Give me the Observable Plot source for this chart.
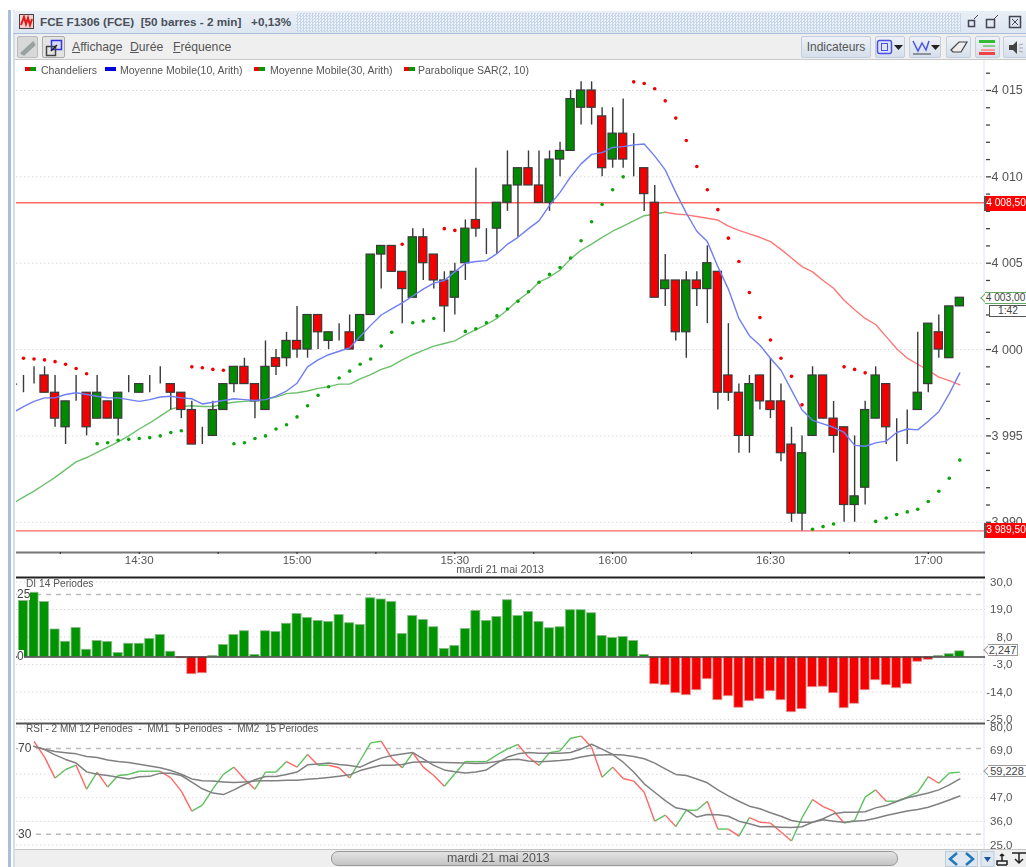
<!DOCTYPE html>
<html lang="fr"><head><meta charset="utf-8">
<script src="https://cdn.jsdelivr.net/npm/d3@7"></script>
<script src="https://cdn.jsdelivr.net/npm/@observablehq/plot@0.6"></script>
<style>
html,body{margin:0;padding:0;background:#fff;width:1026px;height:867px;overflow:hidden;font-family:"Liberation Sans",Arial,sans-serif}
#page{position:absolute;left:0;top:0;width:1026px;height:867px;overflow:hidden;filter:blur(.5px)}
.abs{position:absolute;white-space:pre;line-height:1}
.panel{position:absolute;left:0;width:1026px}
.panel svg{background:transparent!important;overflow:visible;font-family:"Liberation Sans",Arial,sans-serif}
.btn{position:absolute;top:36px;height:22px;background:linear-gradient(#eef2f7,#d5dfeb);border:1px solid #c2cedd;border-radius:2px;box-sizing:border-box}
.box{position:absolute;box-sizing:border-box;text-align:center;white-space:pre}
.leg{position:absolute;top:65px;font-size:10.5px;color:#555;white-space:pre;line-height:10px}
.mk{position:absolute;top:67px;width:11px;height:4px}
.ptr{position:absolute;width:8px;height:8px;background:#fff;transform:rotate(45deg);box-sizing:border-box}
u{text-decoration:underline}
</style></head><body>
<div id="page">
  <div class="abs" style="left:8px;top:10px;width:3px;height:857px;background:#a9bedd"></div>
  <div class="abs" style="left:13px;top:10px;width:2px;height:857px;background:#d3deec"></div>
  <div class="abs" style="left:13px;top:11px;width:1013px;height:23px;background:linear-gradient(#e9eff6,#dde6f1);border-bottom:1px solid #a9bedd;box-sizing:border-box"></div>
  <div class="abs" style="left:296px;top:13px;width:665px;height:19px;background:repeating-conic-gradient(#c6d5e8 0 25%,#eef3f9 0 50%) 0 0/3px 3px"></div>
  <svg class="abs" style="left:19px;top:14px" width="15" height="15"><rect x=".5" y=".5" width="14" height="14" fill="#f4d0d0" stroke="#444"/><path d="M2 11 L5 3 L7 10 L9 4 L11 11 L13 5" fill="none" stroke="#e01818" stroke-width="2"/></svg>
  <div class="abs" style="left:40px;top:16px;font-size:11.7px;font-weight:bold;color:#4a4f58">FCE F1306 (FCE)  [50 barres - 2 min]   +0,13%</div>
  <svg class="abs" style="left:966px;top:13px" width="60" height="18"><g fill="none" stroke="#445"><rect x="2.5" y="7.5" width="6" height="6" stroke-width="1.5"/><path d="M8 6 L12 2"/><rect x="20.5" y="6.5" width="8" height="8" stroke-width="1.5"/><path d="M28 6 L32 2"/><rect x="43.5" y="3.5" width="11" height="11" stroke-width="1.5" fill="#dfe8f2"/><path d="M46 6 L52 12 M52 6 L46 12"/></g></svg>
  <div class="abs" style="left:15px;top:34px;width:1011px;height:26px;background:#efefef;border-bottom:1px solid #c9c9c9;box-sizing:border-box"></div>
  <div class="btn" style="left:17px;width:21px;background:#d8d8d8;border-color:#bbb"></div>
  <svg class="abs" style="left:18px;top:38px" width="20" height="20"><path d="M3 16 L16 4 M5 17 L17 6" stroke="#9aa0a0" stroke-width="2.5" fill="none"/></svg>
  <div class="btn" style="left:42px;width:23px;background:#e4e4e4;border-color:#aaa"></div>
  <svg class="abs" style="left:45px;top:39px" width="18" height="18"><rect x="6.5" y="1.5" width="10" height="9" fill="#d8dcfa" stroke="#3333dd" stroke-width="1.5"/><rect x="1.5" y="7.5" width="9" height="9" fill="none" stroke="#444" stroke-width="1.5"/><path d="M6 12 L12 6" stroke="#222" stroke-width="1.5"/></svg>
  <div class="abs" style="left:72px;top:41px;font-size:12.2px;color:#555"><u>A</u>ffichage</div>
  <div class="abs" style="left:130px;top:41px;font-size:12.2px;color:#555"><u>D</u>urée</div>
  <div class="abs" style="left:173px;top:41px;font-size:12.2px;color:#555"><u>F</u>réquence</div>
  <div class="btn" style="left:801px;width:70px;font-size:12px;color:#555;text-align:center;line-height:20px">Indicateurs</div>
  <div class="btn" style="left:875px;width:30px"></div>
  <svg class="abs" style="left:876px;top:38px" width="28" height="18"><rect x="1.5" y="2.5" width="14" height="13" rx="2" fill="#dfe4fa" stroke="#4a52e8" stroke-width="1.5"/><rect x="5.5" y="5.5" width="6" height="7" fill="none" stroke="#4a52e8"/><path d="M18 7 L27 7 L22.5 12 Z" fill="#222"/></svg>
  <div class="btn" style="left:909px;width:32px"></div>
  <svg class="abs" style="left:911px;top:38px" width="29" height="18"><path d="M2 3 L7 13 L11 5 L15 12 L18 3" fill="none" stroke="#4a52e8" stroke-width="1.5"/><path d="M2 16 L20 16" stroke="#444"/><path d="M20 7 L29 7 L24.5 12 Z" fill="#222"/></svg>
  <div class="btn" style="left:946px;width:25px"></div>
  <svg class="abs" style="left:949px;top:40px" width="20" height="14"><path d="M2 10 L10 2 L18 2 L12 12 L4 12 Z" fill="#eee" stroke="#444" stroke-width="1.2"/></svg>
  <div class="btn" style="left:975px;width:25px"></div>
  <svg class="abs" style="left:979px;top:39px" width="18" height="17"><rect x="0" y="1" width="16" height="3" fill="#3b3"/><rect x="4" y="6" width="12" height="2" fill="#8c8"/><rect x="2" y="10" width="14" height="2" fill="#f99"/><rect x="0" y="13" width="16" height="3" fill="#e44"/></svg>
  <div class="btn" style="left:1003px;width:30px"></div>
  <svg class="abs" style="left:1008px;top:40px" width="18" height="15"><path d="M1 5 L5 5 L9 1 L9 14 L5 10 L1 10 Z" fill="#444"/><path d="M11 5 L15 4 M11 8 L15 8 M11 11 L15 12" stroke="#aaa"/></svg>

  <div class="mk" style="left:25px;background:linear-gradient(90deg,#e00 50%,#090 50%)"></div><div class="leg" style="left:41px">Chandeliers</div>
  <div class="mk" style="left:105px;background:#00d"></div><div class="leg" style="left:120px">Moyenne Mobile(10, Arith)</div>
  <div class="mk" style="left:254px;background:linear-gradient(90deg,#e00 50%,#090 50%)"></div><div class="leg" style="left:270px">Moyenne Mobile(30, Arith)</div>
  <div class="mk" style="left:404px;background:linear-gradient(90deg,#e00 50%,#090 50%)"></div><div class="leg" style="left:418px">Parabolique SAR(2, 10)</div>

  <div class="abs" style="left:983px;top:60px;width:2px;height:790px;background:#eef2f8"></div>
  <div class="panel" id="main" style="top:62px"></div>
  <div class="panel" id="di" style="top:578px"></div>
  <div class="panel" id="rsi" style="top:724px"></div>

  <div class="box" style="left:984px;top:196px;width:42px;height:15px;background:#f00;color:#fff;border-left:2px solid #555;font-size:10.2px;line-height:14px">4 008,50</div>
  <div class="box" style="left:984px;top:523px;width:42px;height:15px;background:#f00;color:#fff;border-left:2px solid #555;font-size:10.2px;line-height:14px">3 989,50</div>
  <div class="ptr" style="left:982px;top:294px;border-left:1px solid #6a6;border-bottom:1px solid #6a6"></div>
  <div class="box" style="left:985px;top:292px;width:41px;height:12px;background:#fff;color:#444;border:1px solid #6a6;border-left:0;border-right:0;line-height:10px;font-size:10.2px">4 003,00</div>
  <div class="box" style="left:989px;top:305px;width:37px;height:12px;background:#fff;color:#444;border:1px solid #555;border-right:0;line-height:10px;font-size:10.2px">1:42</div>
  <div class="ptr" style="left:985px;top:646px;border-left:1px solid #999;border-bottom:1px solid #999"></div>
  <div class="box" style="left:988px;top:644px;width:30px;height:12px;background:#fff;color:#444;border:1px solid #999;border-left:0;line-height:10px;font-size:11px">2,247</div>
  <div class="ptr" style="left:985px;top:767px;border-left:1px solid #999;border-bottom:1px solid #999"></div>
  <div class="box" style="left:988px;top:765px;width:38px;height:12px;background:#fff;color:#444;border:1px solid #999;border-left:0;border-right:0;line-height:10px;font-size:11px">59,228</div>

  <div class="leg" style="left:26px;top:579px;font-size:10.2px">DI 14 Periodes</div>
  <div class="leg" style="left:26px;top:724px;font-size:10px">RSI - 2 MM 12 Periodes  -  MM1  5 Periodes  -  MM2  15 Periodes</div>
  <div class="abs" style="left:17px;top:588px;font-size:12px;color:#444;background:#fff">25</div>
  <div class="abs" style="left:17px;top:650px;font-size:12px;color:#444;background:#fff">0</div>
  <div class="abs" style="left:18px;top:742px;font-size:12px;color:#444;background:#fff">70</div>
  <div class="abs" style="left:18px;top:828px;font-size:12px;color:#444;background:#fff">30</div>

  <div class="abs" style="left:15px;top:849px;width:1011px;height:18px;background:#efefef;border-top:1px solid #c5c5c5;box-sizing:border-box"></div>
  <div class="abs" style="left:331px;top:851px;width:567px;height:15px;background:linear-gradient(#e4e4e4,#c4c4c4);border:1px solid #999;border-radius:7px;box-sizing:border-box;font-size:12.4px;color:#555;line-height:13px;padding-left:115px">mardi 21 mai 2013</div>
  <svg class="abs" style="left:945px;top:851px" width="81" height="16"><rect x=".5" y=".5" width="32" height="15" fill="#dfe7f1" stroke="#bcd"/><path d="M12 2 L5 8 L12 14 M21 2 L28 8 L21 14" fill="none" stroke="#2277bb" stroke-width="2.5"/><rect x="36" y=".5" width="13" height="15" fill="#dfe7f1" stroke="#bcd"/><path d="M39 6 L46 6 L42.5 11 Z" fill="#1a5599"/><path d="M52 14 L52 10 L57 10 L57 3 M57 3 L55 5 M57 3 L59 5 M62 14 L62 10 L57 10 M52 14 L62 14" fill="none" stroke="#222" stroke-width="1.5"/><path d="M67 2 L81 2 M74 2 L74 12 M70 8 L74 12 L78 8" fill="none" stroke="#222" stroke-width="1.5"/></svg>
</div>
<script>
const opens=[3998,3998.5,3998.5,3997.5,3995.5,3997.5,3997.5,3996,3997,3996,3997.5,3997.5,3998,3998,3998,3997.5,3996.5,3995,3995,3996.5,3998,3999,3998,3996.5,3999.5,3999.5,4000.5,4000,4002,4000.5,4001,4001,4000.5,4002,4005.5,4006,4004.5,4003,4006.5,4005.5,4004,4003,4005,4007.5,4007,4007,4008.5,4009.5,4010.5,4009.5,4008.5,4011,4011.5,4014,4015,4013.5,4011,4012.5,4010.5,4010.5,4008.5,4003.5,4004,4001,4004,4003.5,4004.5,3998.5,3997.5,3995,3998.5,3997,3997,3994.5,3990.5,3995,3998.5,3996,3995.5,3991,3992,3996,3998,3995.5,3996,3996.5,3998,4001,3999.5,4002.5];
const closes=[3998,3998.5,3997.5,3996,3997,3997.5,3995.5,3997.5,3996,3997.5,3997.5,3998,3998,3998,3997.5,3996.5,3994.5,3995,3996.5,3998,3999,3998,3997,3999,3999,4000.5,4000,4002,4001,4001,4001,4000,4002,4005.5,4006,4004.5,4003.5,4006.5,4005,4004,4002.5,4004.5,4007,4007,4007,4008.5,4009.5,4010.5,4009.5,4008.5,4011,4011.5,4014.5,4015,4014,4010.5,4012.5,4011,4010.5,4009,4003,4004,4001,4004,4003.5,4005,3997.5,3997.5,3995,3998,3997,3996.5,3994,3990.5,3994,3998.5,3996,3995,3991,3991.5,3996.5,3998.5,3995.5,3995.5,3996,3997.5,4001.5,4000,4002.5,4003];
const highs=[3998.5,3999,3999,3998.5,3997,3998.5,3997.5,3998.5,3997,3997.5,3998.5,3998,3998.5,3999,3998,3997.5,3997,3995.5,3997,3998,3999,3999.5,3998,4000.5,4000,4001,4002.5,4002,4002,4001,4001.5,4002,4002,4005.5,4006,4006,4004.5,4007,4007,4005.5,4004.5,4005,4007.5,4010.5,4007,4008.5,4011.5,4010.5,4011.5,4011.5,4011.5,4012,4015,4015.5,4015.5,4014,4014,4014.5,4012.5,4010.5,4009.5,4005.5,4004,4004.5,4004.5,4006,4004.5,4001.5,3998,3998.5,3998.5,3999.5,3998,3995.5,3995,3999,3998.5,3997,3995.5,3995,3997,3999,3998,3996,3996.5,4001,4001.5,4002,4002.5,4003];
const lows=[3997.5,3998,3997.5,3995.5,3994.5,3997,3995,3996,3996,3995,3997.5,3997.5,3997.5,3998,3996.5,3996,3994.5,3994.5,3995,3996.5,3997.5,3998,3996,3996.5,3998.5,3999,3999.5,3999.5,4000,4000,4000.5,4000,4000.5,4002,4003.5,4004.5,4001.5,4003,4004,4003.5,4001,4002,4004,4006.5,4005.5,4005.5,4008,4006.5,4009.5,4008.5,4008,4010,4011.5,4013,4013,4010,4010.5,4010.5,4010,4008,4003,4002.5,4000.5,3999.5,4002.5,4001.5,3996.5,3997,3994,3994,3996.5,3996,3993.5,3990,3989.5,3995,3996,3994,3990,3990,3991,3996,3994.5,3993.5,3994.5,3996.5,3997.5,3999.5,3999.5,4002.5];
const ma10=[3996.7,3997,3997.2,3997.2,3997.4,3997.5,3997.4,3997.3,3997.2,3997.2,3997.1,3997,3997.1,3997.25,3997.3,3997.2,3997.15,3996.85,3996.95,3997.05,3997.15,3997.1,3997.05,3997.1,3997.3,3997.6,3998.05,3999,3999.4,3999.7,3999.9,4000.1,4000.75,4001.4,4002,4002.35,4002.7,4003.1,4003.5,4003.85,4004,4004.5,4005,4005.1,4005.15,4005.55,4006.1,4006.5,4007,4007.45,4008.35,4009.1,4010,4010.75,4011.3,4011.4,4011.7,4011.75,4011.85,4011.9,4011.2,4010.4,4009.1,4007.9,4006.85,4006.25,4004.8,4003.5,4001.8,4000.8,4000.25,3999.5,3998.8,3997.65,3996.5,3995.9,3995.7,3995.5,3995.2,3994.45,3994.4,3994.6,3994.7,3995.2,3995.4,3995.35,3995.85,3996.4,3997.45,3998.65];
const ma30=[3991.45,3991.8,3992.2,3992.6,3993.05,3993.5,3993.75,3994.05,3994.35,3994.65,3995,3995.4,3995.75,3996.15,3996.55,3996.7,3996.75,3996.7,3996.7,3996.85,3996.95,3997,3997.05,3997.1,3997.25,3997.45,3997.5,3997.6,3997.75,3997.85,3998,3998,3998.3,3998.55,3998.85,3999.05,3999.4,3999.7,3999.95,4000.2,4000.35,4000.5,4000.85,4001.15,4001.45,4001.8,4002.3,4002.85,4003.3,4003.9,4004.2,4004.6,4005.25,4005.75,4006.1,4006.5,4006.85,4007.15,4007.45,4007.75,4007.85,4007.95,4007.85,4007.8,4007.7,4007.6,4007.5,4007.15,4006.9,4006.7,4006.5,4006.25,4005.8,4005.3,4004.8,4004.5,4004,4003.55,4002.85,4002.3,4001.8,4001.45,4000.75,4000.05,3999.5,3999.15,3998.8,3998.4,3998.2,3997.95];
const sar=[3999.5,3999.45,3999.4,3999.3,3999.15,3998.9,3998.6,3994.55,3994.6,3994.75,3994.8,3994.85,3994.9,3995,3995.2,3995.3,3999,3998.95,3998.85,3998.8,3994.55,3994.6,3994.85,3995,3995.4,3995.65,3996.1,3996.75,3997.35,3997.85,3998.35,3998.75,3999.15,3999.45,4000.2,4001,4006.1,4001.55,4001.65,4001.8,4007,4006.9,4001.05,4001.2,4001.55,4001.95,4002.35,4002.8,4003.35,4003.9,4004.35,4004.75,4005.3,4006.3,4007.4,4008.4,4009.25,4010,4015.5,4015.4,4015.1,4014.4,4013.4,4012.1,4010.6,4009.25,4008.1,4006.45,4005.1,4003.3,4001.85,4000.55,3999.5,3998.45,3996.8,3989.6,3989.75,3989.9,3999,3998.85,3998.65,3990.05,3990.25,3990.45,3990.6,3990.75,3991.2,3991.8,3992.55,3993.6];
const ma10Before=3996.35, ma30Before=3991.1, clippedDoji=3998;
const diValues=[22.4,25.7,22,11,6.1,11.6,2.9,6.4,6,1.6,5.3,5.3,7.2,8.8,2.1,-0.5,-6.9,-6.5,0.4,4.8,8.8,10.3,0.8,10.3,10,13.3,17.2,15.6,14.4,14,16.8,13.5,12.8,23.5,23,22,9.2,16.4,14.8,11.9,3.2,4.4,11.2,18.4,14.4,16,22.7,16.4,18,14,11.5,11.9,18.7,18.7,17.5,8.4,7.6,8,6.4,0.8,-10.9,-11.3,-14.5,-15.3,-13.3,-8.9,-17.3,-15.7,-20.3,-17.7,-16.9,-13.7,-17.3,-22.1,-20.9,-12.1,-11.9,-14.5,-20.5,-18.7,-13.3,-9.3,-11.3,-12.5,-10.9,-1.9,-1.1,0.4,1.1,2.25];
const rsiValues=[null,73.3,66,56.2,60.2,62.2,51,59,52,57.4,57.9,59.4,59.4,59.4,56.3,50.1,40.8,43.6,51.2,57.9,61.3,55.8,51,59,59,63.9,61.3,67.2,62.2,62.2,61,56.2,64.4,72.6,73.4,65.5,61,68,61.3,57.4,52.4,58.2,63.9,63.9,63.9,67,69.8,71.9,66,62.1,68.1,68.9,74.8,75.8,70.6,56.6,61.3,56,54.8,49.6,36.1,38.9,33.6,41.2,41.2,45.4,32.4,32.4,29.1,37.7,35.6,35.2,31,26.8,37.7,46.2,42.9,40.8,35.2,36.4,47.3,50.7,45.4,45.4,47.3,49.6,56.9,53.8,58.6,59];
const mm1=[null,71,69.5,67,64.9,63.2,59.1,58,57.4,56.6,55.8,56.8,57,58.5,58.5,57.4,54.3,51.2,49.2,48.5,50.7,53.2,55.4,56.9,56.9,57.9,59,62.4,62.8,63.2,62.5,62.1,61.3,63.6,65.5,66.7,67.4,68.1,65.2,62.1,60,59.1,58.6,59,60,63.2,66,67.5,68.1,67.8,67.8,67.8,68.1,69.8,72,69.7,67.2,63.6,59,53.5,49.6,45.7,42.3,41.4,38,39.2,39.1,38.4,36.1,34.9,33.5,33.6,33.3,33.1,33.5,35.6,37.2,39.5,40.3,40.3,40.5,42.3,43.4,45.3,47,48.1,49.2,50.7,53,55.8];
const mm2=[null,71,69.7,68.6,68,67.5,66.3,65.8,64.6,63.9,63.5,62.7,61.8,61,59.7,58,55.8,55,54.8,54.4,54.1,54.4,54.8,54.9,54.9,55.2,55.2,55.7,56,56.5,57.1,57.7,59.7,61,62.2,62.2,62.5,63.6,63.8,63.6,63.5,63.3,63.2,63,63.2,63.9,64.7,65,64.2,63.8,64.1,64.4,64.9,66,66.9,67,67.2,67,66.3,65.2,63.2,60.5,57.9,57.4,55.8,54,50.7,47.9,45.4,43.1,41.9,40,38.4,36.4,35.6,35.6,36.7,36.1,35.6,36.1,36.4,37.5,38.7,39.8,40.8,41.5,42.6,44.2,46,47.8];
const priceLabels=[4015,4010,4005,4000,3995,3990];
const priceMinor=[4016,4014,4013,4012,4011,4009,4008,4007,4006,4004,4003,4002,4001,3999,3998,3997,3996,3994,3993,3992,3991];
const resistance=[4008.5,3989.5];
const timeBars=[11,26,41,56,71,86];
const timeNames=["14:30","15:00","15:30","16:00","16:30","17:00"];
const timeMinor=[3.5,18.5,33.5,48.5,63.5,78.5];
const dateLabel="mardi 21 mai 2013";
const diTicks=[30,19,8,-3,-14,-25];
const diDashed=[25];
const rsiTicks=[80,69,47,36,25];
const rsiGrid=[80,58,47,36,25];
const rsiDashed=[70,30];

const GREEN="#008a00",RED="#f40000",INK="#3a3a3a",GRID="#d9d9d9",LABEL="#555";
const bars=opens.map((o,i)=>({i,o,c:closes[i],h:highs[i],l:lows[i],ma10:ma10[i],ma30:ma30[i],sar:sar[i],di:diValues[i],rsi:rsiValues[i],mm1:mm1[i],mm2:mm2[i]}));
const maBars=[{i:-1,ma10:ma10Before,ma30:ma30Before},...bars];
const xDomain=[-0.665,91.44];
const W=1026,MR=41,ML=16;
const frenchPrice=v=>String(v).replace(/(\d)(\d{3})$/,"$1 $2");
const comma=v=>v.toFixed(1).replace(".",",");
const noText=()=>"";

// main price panel
const main=Plot.plot({
  width:W,height:515,marginLeft:ML,marginRight:MR,marginTop:0,marginBottom:25,
  x:{domain:xDomain,axis:null},
  y:{domain:[3988.25,4016.62],axis:null},
  marks:[
    Plot.ruleY(priceLabels,{y:d=>d,stroke:GRID,strokeDasharray:"1.5,2.5"}),
    Plot.ruleY(resistance,{y:d=>d,stroke:"#f66",strokeWidth:1.3}),
    Plot.line(maBars.filter(d=>d.i<=61),{x:"i",y:"ma30",stroke:"#6cc06c",strokeWidth:1.4,clip:true}),
    Plot.line(maBars.filter(d=>d.i>=61),{x:"i",y:"ma30",stroke:"#f77",strokeWidth:1.4,clip:true}),
    Plot.ruleX(bars,{x:"i",y1:"l",y2:"h",stroke:INK,strokeWidth:1.4}),
    Plot.rect(bars,{x1:d=>d.i-0.39,x2:d=>d.i+0.39,y1:d=>Math.min(d.o,d.c),y2:d=>Math.max(d.o,d.c),
      fill:d=>d.c>=d.o?GREEN:RED,stroke:INK,strokeWidth:1.2}),
    Plot.link([clippedDoji],{x1:()=>-1.39,x2:()=>-0.61,y1:d=>d,y2:d=>d,stroke:INK,strokeWidth:1.2,clip:true}),
    Plot.line(maBars,{x:"i",y:"ma10",stroke:"#6f7ff2",strokeWidth:1.4,clip:true}),
    Plot.dot(bars,{x:"i",y:"sar",r:1.8,fill:d=>d.sar>d.c?"#f00000":"#0ca30c"}),
    Plot.axisY({anchor:"right",ticks:priceMinor,tickSize:4,tickFormat:noText,label:null,stroke:"#444",strokeWidth:1.3}),
    Plot.axisY({anchor:"right",ticks:priceLabels,tickSize:5,tickPadding:1,tickFormat:frenchPrice,label:null,fontSize:12.5,fill:LABEL,stroke:"#444",strokeWidth:1.3}),
    Plot.ruleY([3988.25],{stroke:"#777",strokeWidth:2}),
    Plot.axisX({anchor:"bottom",ticks:timeBars,tickSize:2,tickPadding:1,tickFormat:d=>timeNames[timeBars.indexOf(d)],label:null,fontSize:11.5,fill:LABEL,stroke:"#222"}),
    Plot.axisX({anchor:"bottom",ticks:timeMinor,tickSize:2,tickFormat:noText,label:null,stroke:"#222"}),
    Plot.text([dateLabel],{x:()=>45.3,frameAnchor:"bottom",dy:20,text:d=>d,fontSize:10.6,fill:LABEL})
  ]
});
document.getElementById("main").append(main);

// DI panel
const di=Plot.plot({
  width:W,height:145,marginLeft:ML,marginRight:MR,marginTop:0,marginBottom:0,
  x:{domain:xDomain,axis:null},
  y:{domain:[-26.6,31.4],axis:null},
  marks:[
    Plot.ruleY([31.4],{stroke:"#222",strokeWidth:2,dy:-1}),
    Plot.ruleY(diTicks,{y:d=>d,stroke:GRID,strokeDasharray:"1.5,2.5"}),
    Plot.ruleY(diDashed,{y:d=>d,stroke:"#bbb",strokeWidth:1.4,strokeDasharray:"5,5"}),
    Plot.rect(bars,{x1:d=>d.i-0.43,x2:d=>d.i+0.43,y1:()=>0,y2:"di",fill:d=>d.di>=0?"#009400":RED,stroke:d=>d.di>=0?"#8ab88a":"#d99",strokeWidth:0.8}),
    Plot.ruleY([0],{stroke:"#444",strokeWidth:1.5}),
    Plot.axisY({anchor:"right",ticks:diTicks,tickSize:0,tickPadding:27,textAnchor:"end",tickFormat:comma,label:null,fontSize:11.5,fill:LABEL})
  ]
});
document.getElementById("di").append(di);

// RSI panel
const segments=bars.slice(2).map(d=>({i0:d.i-1,v0:bars[d.i-1].rsi,i1:d.i,v1:d.rsi}));
const rsi=Plot.plot({
  width:W,height:125,marginLeft:ML,marginRight:MR,marginTop:0,marginBottom:0,
  x:{domain:xDomain,axis:null},
  y:{domain:[22.87,81.2],axis:null},
  marks:[
    Plot.ruleY([81.2],{stroke:"#555",strokeWidth:2,dy:-1}),
    Plot.ruleY(rsiGrid,{y:d=>d,stroke:GRID,strokeDasharray:"1.5,2.5"}),
    Plot.ruleY(rsiDashed,{y:d=>d,stroke:"#bbb",strokeWidth:1.4,strokeDasharray:"5,5"}),
    Plot.link(segments,{x1:"i0",y1:"v0",x2:"i1",y2:"v1",stroke:d=>d.v1>=d.v0?"#5fc05f":"#f66",strokeWidth:1.4}),
    Plot.line(bars.filter(d=>d.mm2!=null),{x:"i",y:"mm2",stroke:"#808080",strokeWidth:1.5}),
    Plot.line(bars.filter(d=>d.mm1!=null),{x:"i",y:"mm1",stroke:"#808080",strokeWidth:1.5}),
    Plot.axisY({anchor:"right",ticks:rsiTicks,tickSize:0,tickPadding:27,textAnchor:"end",tickFormat:comma,label:null,fontSize:11.5,fill:LABEL})
  ]
});
document.getElementById("rsi").append(rsi);
</script>
</body></html>
